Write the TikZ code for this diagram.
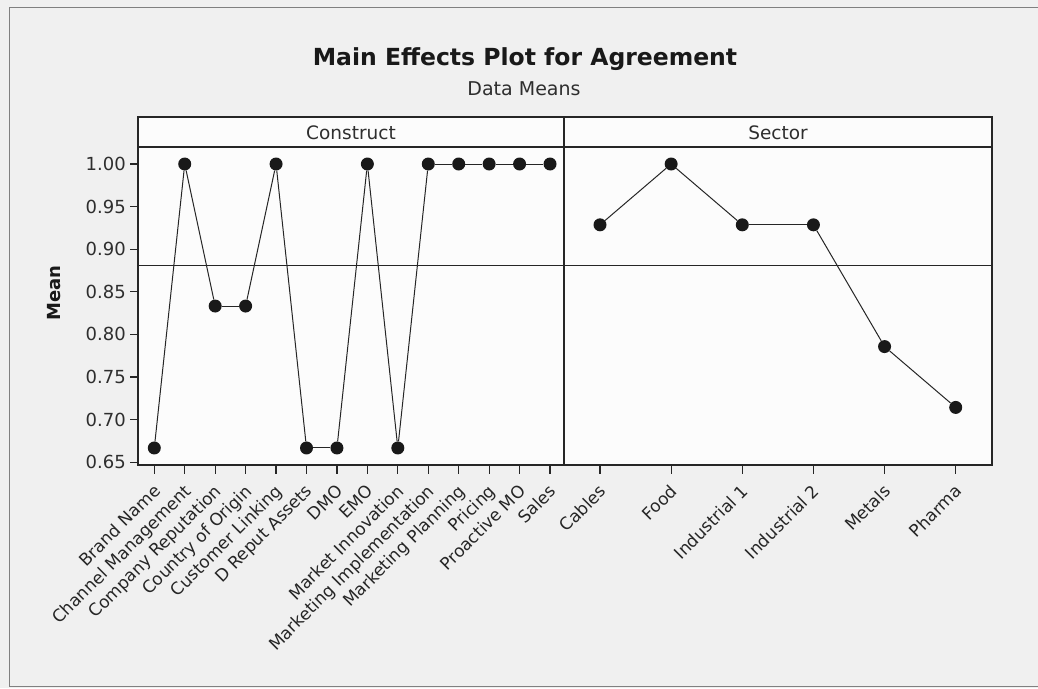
\documentclass[tikz,border=0pt]{standalone}
\usepackage{fontspec}
\setmainfont{DejaVu Sans}
\begin{document}
\begin{tikzpicture}[x=1pt,y=-1pt,
  outerframe/.style={draw=black!50, line width=1pt},
  axisline/.style={draw=black!85, line width=1.2pt},
  dataline/.style={draw=black!85, line width=1pt},
  dot/.style={circle, fill=black!90, draw=none, inner sep=0pt, minimum size=13pt},
  ticklab/.style={font=\fontsize{18}{20}\selectfont, text=black!82, anchor=east, inner sep=0pt},
  catlab/.style={font=\fontsize{17}{20}\selectfont, text=black!85, anchor=north east, rotate=45, inner sep=0pt},
  striplab/.style={font=\fontsize{18.5}{20}\selectfont, text=black!82, anchor=base},
]
% canvas
\fill[black!6] (0,0) rectangle (1038,688);
\useasboundingbox (0,0) rectangle (1038,688);
\draw[outerframe] (1038,7) -- (9,7) -- (9,686) -- (1038,686);

% titles
\node[anchor=base, font=\bfseries\fontsize{23.5}{26}\selectfont, text=black!90] (title) at (525,65) {Main Effects Plot for Agreement};
\node[anchor=base, font=\fontsize{19}{22}\selectfont, text=black!82] (subtitle) at (524,95) {Data Means};
\node[rotate=90, anchor=base, font=\bfseries\fontsize{18}{20}\selectfont, text=black!90] (ylab) at (60,293) {Mean};

% panels
\fill[black!1] (138,117) rectangle (992,465);
\draw[axisline] (138,117) rectangle (992,465);
\draw[axisline] (138,147) -- (992,147);
\draw[axisline] (564,117) -- (564,465);
\node[striplab] (hc) at (351,139) {Construct};
\node[striplab] (hs) at (778,139) {Sector};

% grand mean reference line
\draw[dataline, line width=1.2pt] (138,265.7) -- (992,265.7);

% y axis ticks
\foreach \v [count=\k from 0] in {1.00,0.95,0.90,0.85,0.80,0.75,0.70,0.65} {
  \draw[axisline] (130,{164+\k*42.6}) -- (138,{164+\k*42.6});
  \node[ticklab] (yt\k) at (126,{164+\k*42.6}) {\v};
}

% Construct panel
\foreach \lab/\v [count=\i from 1] in {Brand Name/0.6667, Channel Management/1, Company Reputation/0.8333, Country of Origin/0.8333, Customer Linking/1, D Reput Assets/0.6667, DMO/0.6667, EMO/1, Market Innovation/0.6667, Marketing Implementation/1, Marketing Planning/1, Pricing/1, Proactive MO/1, Sales/1} {
  \pgfmathsetmacro{\xx}{154.3+(\i-1)*30.44}
  \draw[axisline] (\xx,465) -- (\xx,474);
  \node[catlab] (cl\i) at (\xx-2,483) {\lab};
  \node[dot] (c\i) at (\xx,{164+(1-\v)*852}) {};
}
\foreach \a/\b in {1/2,2/3,3/4,4/5,5/6,6/7,7/8,8/9,9/10,10/11,11/12,12/13,13/14}
  \draw[dataline] (c\a) -- (c\b);

% Sector panel
\foreach \lab/\v [count=\i from 1] in {Cables/0.9286, Food/1, Industrial 1/0.9286, Industrial 2/0.9286, Metals/0.7857, Pharma/0.7143} {
  \pgfmathsetmacro{\xx}{600+(\i-1)*71.14}
  \draw[axisline] (\xx,465) -- (\xx,474);
  \node[catlab] (sl\i) at (\xx-2,483) {\lab};
  \node[dot] (s\i) at (\xx,{164+(1-\v)*852}) {};
}
\foreach \a/\b in {1/2,2/3,3/4,4/5,5/6}
  \draw[dataline] (s\a) -- (s\b);
\end{tikzpicture}
\end{document}
